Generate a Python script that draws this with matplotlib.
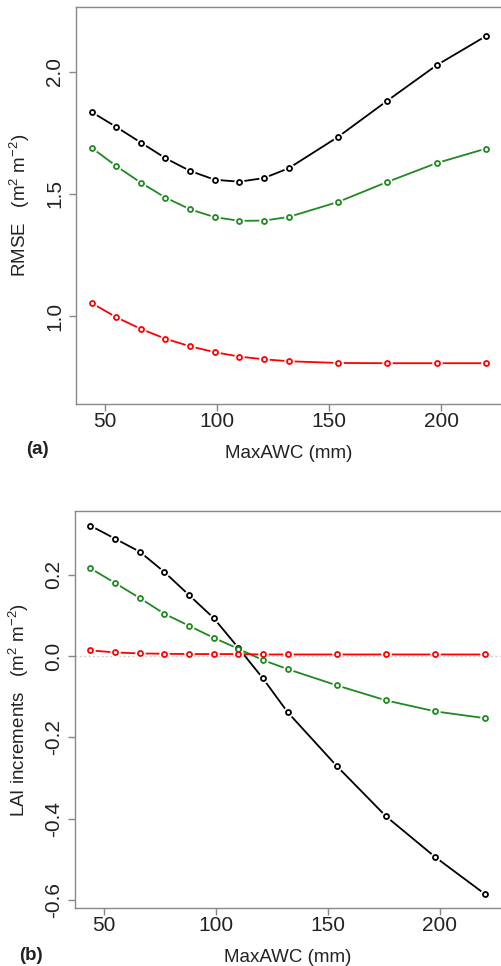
import matplotlib
matplotlib.use("Agg")
import matplotlib.pyplot as plt

plt.rcParams["font.family"] = ["Liberation Sans", "DejaVu Sans"]
plt.rcParams["mathtext.fontset"] = "custom"
plt.rcParams["mathtext.rm"] = "Liberation Sans"
plt.rcParams["mathtext.it"] = "Liberation Sans:italic"

# Dados
maxawc = [44, 55, 66, 77, 88, 99, 110, 121, 132, 154, 176, 198, 220]

rmse_preta = [1.835, 1.774, 1.710, 1.646, 1.594, 1.558, 1.550, 1.565, 1.605,
              1.733, 1.881, 2.026, 2.145]
rmse_verde = [1.689, 1.614, 1.546, 1.485, 1.437, 1.405, 1.390, 1.391, 1.406,
              1.467, 1.549, 1.626, 1.685]
rmse_vermelha = [1.054, 0.996, 0.948, 0.908, 0.877, 0.853, 0.835, 0.824, 0.816,
                 0.809, 0.808, 0.808, 0.808]

lai_preta = [0.3205, 0.2886, 0.2566, 0.2066, 0.150, 0.0935, 0.0204, -0.0549,
             -0.1378, -0.2706, -0.3943, -0.4945, -0.5847]
lai_verde = [0.2157, 0.1796, 0.1427, 0.104, 0.0745, 0.045, 0.018, -0.0098,
             -0.032, -0.072, -0.109, -0.136, -0.1525]
lai_vermelha = [0.014, 0.009, 0.0066, 0.0057, 0.005, 0.005, 0.005, 0.004,
                0.004, 0.004, 0.004, 0.004, 0.004]

cores = ["black", "#1f8a1f", "#ff0000"]
texto = "#222222"
eixo = "#888888"


# Linha com pontos no estilo type="b" do R
def linha_pontos(ax, x, y, cor):
    ax.plot(x, y, color=cor, lw=1.3, zorder=2)
    ax.plot(x, y, ls="none", marker="o", ms=6.5, mfc="white", mec="white",
            zorder=3)
    ax.plot(x, y, ls="none", marker="o", ms=3.6, mfc="white", mec=cor,
            mew=1.3, zorder=4)


def estilo(ax):
    for lado in ["left", "bottom", "top", "right"]:
        ax.spines[lado].set_color(eixo)
        ax.spines[lado].set_linewidth(1.0)
    ax.spines["right"].set_visible(False)
    ax.tick_params(axis="both", colors=eixo, labelcolor=texto, labelsize=15,
                   length=5, width=1.0, direction="out")
    ax.tick_params(axis="x", pad=0.5)
    ax.set_xlim(36.96, 227.04)
    ax.set_xticks([50, 100, 150, 200])
    for lbl in ax.get_yticklabels():
        lbl.set_rotation(90)
        lbl.set_va("center")


fig = plt.figure(figsize=(5.01, 9.66), dpi=100)

# (a) RMSE
ax1 = fig.add_axes([75.8 / 501, 1 - 404.3 / 966, 425.8 / 501, (404.3 - 7.3) / 966])
for serie, cor in zip([rmse_preta, rmse_verde, rmse_vermelha], cores):
    linha_pontos(ax1, maxawc, serie, cor)
ax1.set_ylim(0.640, 2.263)
ax1.set_yticks([1.0, 1.5, 2.0])
ax1.set_yticklabels(["1.0", "1.5", "2.0"])
estilo(ax1)
ax1.set_xlabel("MaxAWC (mm)", fontsize=13.5, color=texto, labelpad=10)
ax1.set_ylabel(r"RMSE   (m$^{2}$ m$^{-2}$)", fontsize=13.5, color=texto, labelpad=9)
fig.text(37 / 501, 1 - 450 / 966, "(a)", fontsize=13.5, fontweight="bold",
         color=texto, ha="center", va="center")

# (b) Incrementos de LAI
ax2 = fig.add_axes([74.7 / 501, 1 - 908.3 / 966, 425.8 / 501, (908.3 - 511) / 966])
ax2.axhline(0, color="#cccccc", lw=0.9, ls=(0, (1.5, 2)), zorder=1)
for serie, cor in zip([lai_preta, lai_verde, lai_vermelha], cores):
    linha_pontos(ax2, maxawc, serie, cor)
ax2.set_ylim(-0.620, 0.3567)
ax2.set_yticks([-0.6, -0.4, -0.2, 0.0, 0.2])
ax2.set_yticklabels(["-0.6", "-0.4", "-0.2", "0.0", "0.2"])
estilo(ax2)
ax2.set_xlabel("MaxAWC (mm)", fontsize=13.5, color=texto, labelpad=10)
ax2.set_ylabel(r"LAI increments   (m$^{2}$ m$^{-2}$)", fontsize=13.5, color=texto,
               labelpad=9)
fig.text(31 / 501, 1 - 955 / 966, "(b)", fontsize=13.5, fontweight="bold",
         color=texto, ha="center", va="center")

fig.savefig("out.png", dpi=100)
